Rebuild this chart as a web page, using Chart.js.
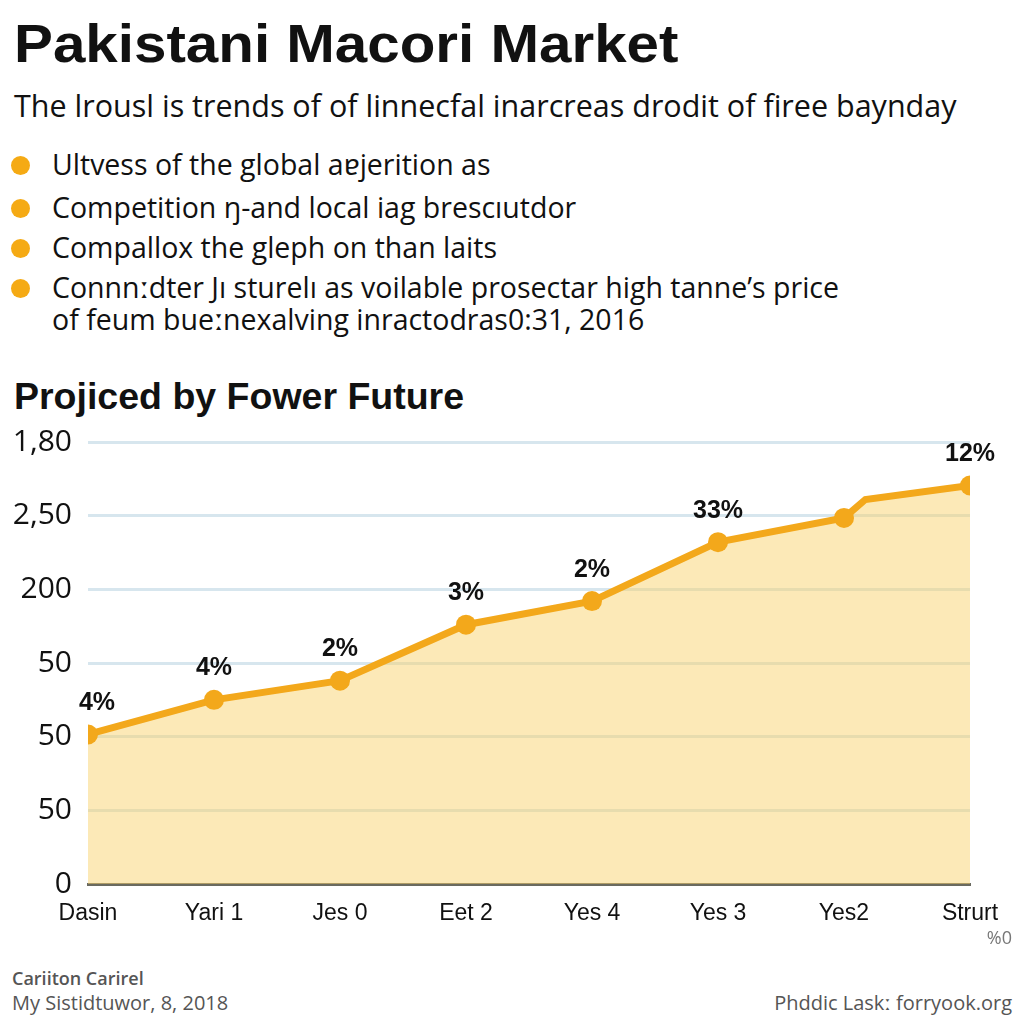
<!DOCTYPE html>
<html>
<head>
<meta charset="utf-8">
<script src="https://cdn.jsdelivr.net/npm/chart.js@4.4.0/dist/chart.umd.min.js"></script>
<style>
  html, body { margin: 0; padding: 0; background: #fff; }
  body { width: 1024px; height: 1024px; position: relative; overflow: hidden; font-family: "Open Sans", "Noto Sans", sans-serif; color: #111; }
  .t { position: absolute; white-space: nowrap; }
  #title { left: 14px; top: 12px; font: bold 54px "Liberation Sans", Arial, sans-serif; transform: scaleX(1.08); transform-origin: left top; }
  #sub { left: 14px; top: 84px; font-size: 30.5px; }
  .bul { left: 52px; font-size: 28.5px; }
  .dot { position: absolute; left: 11px; width: 19px; height: 19px; border-radius: 50%; background: #F5AA14; }
  #sec { left: 14px; top: 375px; font: bold 37.5px "Liberation Sans", Arial, sans-serif; }
  #unit { right: 12px; top: 925px; font-size: 18px; color: #777; }
  #by { left: 12px; top: 966px; font-size: 18px; color: #555; font-weight: 600; }
  #date { left: 12px; top: 989px; font-size: 20px; color: #555; }
  #src { right: 12px; top: 989px; font-size: 20px; color: #555; }
  #wrap { position: absolute; left: 0; top: 408px; width: 1024px; height: 532px; }
</style>
</head>
<body>
<div id="title" class="t">Pakistani Macori Market</div>
<div id="sub" class="t">The lrousl is trends of of linnecfal inarcreas drodit of firee baynday</div>

<div class="dot" style="top:156px"></div>
<div class="t bul" style="top:145px">Ultvess of the global aɐjerition as</div>
<div class="dot" style="top:199px"></div>
<div class="t bul" style="top:188px">Competition ŋ-and local iag brescıutdor</div>
<div class="dot" style="top:239px"></div>
<div class="t bul" style="top:228px">Compallox the gleph on than laits</div>
<div class="dot" style="top:279px"></div>
<div class="t bul" style="top:268px">Connnːdter Jı sturelı as voilable prosectar high tanne’s price</div>
<div class="t bul" style="top:300px; left:52px">of feum bueːnexalving inractodras0:31, 2016</div>

<div id="sec" class="t">Projiced by Fower Future</div>

<div id="wrap"><canvas id="myChart"></canvas></div>

<div id="unit" class="t">%0</div>
<div id="by" class="t">Cariiton Carirel</div>
<div id="date" class="t">My Sistidtuwor, 8, 2018</div>
<div id="src" class="t">Phddic Laskː forryook.org</div>

<script>
// x labels on the category axis
const categories = ['Dasin', 'Yari 1', 'Jes 0', 'Eet 2', 'Yes 4', 'Yes 3', 'Yes2', 'Strurt']
// position along the axis (index); one extra bend between Yes2 and Strurt
const periods = [0, 1, 2, 3, 4, 5, 6, 6.17, 7]
const values = [2.03, 2.5, 2.76, 3.52, 3.84, 4.64, 4.97, 5.22, 5.41]
const pointLabels = ['4%', '4%', '2%', '3%', '2%', '33%', '', '', '12%']
const hasMarker = [1, 1, 1, 1, 1, 1, 1, 0, 1]
// y tick labels as printed, bottom to top
const yTickLabels = ['0', '50', '50', '50', '200', '2,50', '1,80']

const orange = '#F3A81B'

const labelPlugin = {
    id: 'pointText',
    afterDatasetsDraw(chart) {
        const ctx = chart.ctx
        const meta = chart.getDatasetMeta(0)
        ctx.save()
        ctx.font = 'bold 25px "Liberation Sans", Arial, sans-serif'
        ctx.fillStyle = '#111'
        ctx.textAlign = 'center'
        ctx.textBaseline = 'bottom'
        meta.data.forEach((pt, i) => {
            if (pointLabels[i]) {
                let dx = i === 0 ? 9 : 0
                ctx.fillText(pointLabels[i], pt.x + dx, pt.y - 19)
            }
        })
        ctx.restore()
    }
}

const ctx = document.getElementById('myChart')
new Chart(ctx, {
    type: 'line',
    data: {
        datasets: [{
            data: periods.map((p, i) => ({ x: p, y: values[i] })),
            borderColor: orange,
            borderWidth: 7,
            backgroundColor: 'rgba(248, 208, 105, 0.48)',
            fill: 'origin',
            tension: 0,
            pointRadius: hasMarker.map(m => m ? 10 : 0),
            pointBackgroundColor: orange,
            pointBorderWidth: 0,
        }]
    },
    plugins: [labelPlugin],
    options: {
        responsive: true,
        maintainAspectRatio: false,
        animation: false,
        layout: { padding: { top: 11, right: 54, left: 0, bottom: 0 } },
        plugins: {
            legend: { display: false },
            tooltip: { enabled: false }
        },
        scales: {
            x: {
                type: 'linear',
                min: 0,
                max: 7,
                afterFit: (s) => { s.height = 56 },
                grid: { display: false },
                border: { color: '#6a6a60', width: 3 },
                ticks: {
                    stepSize: 1,
                    color: '#111',
                    padding: 8,
                    font: { family: '"Liberation Sans Narrow", "Liberation Sans", sans-serif', size: 23 },
                    callback: (v) => categories[v] !== undefined ? categories[v] : ''
                }
            },
            y: {
                min: 0,
                max: 6,
                afterFit: (s) => { s.width = 88 },
                grid: { color: '#D7E6EE', lineWidth: 3, drawTicks: false },
                border: { display: false },
                ticks: {
                    stepSize: 1,
                    color: '#111',
                    padding: 16,
                    font: { family: '"Open Sans", sans-serif', size: 30 },
                    callback: (v) => yTickLabels[v]
                }
            }
        }
    }
});
</script>
</body>
</html>
